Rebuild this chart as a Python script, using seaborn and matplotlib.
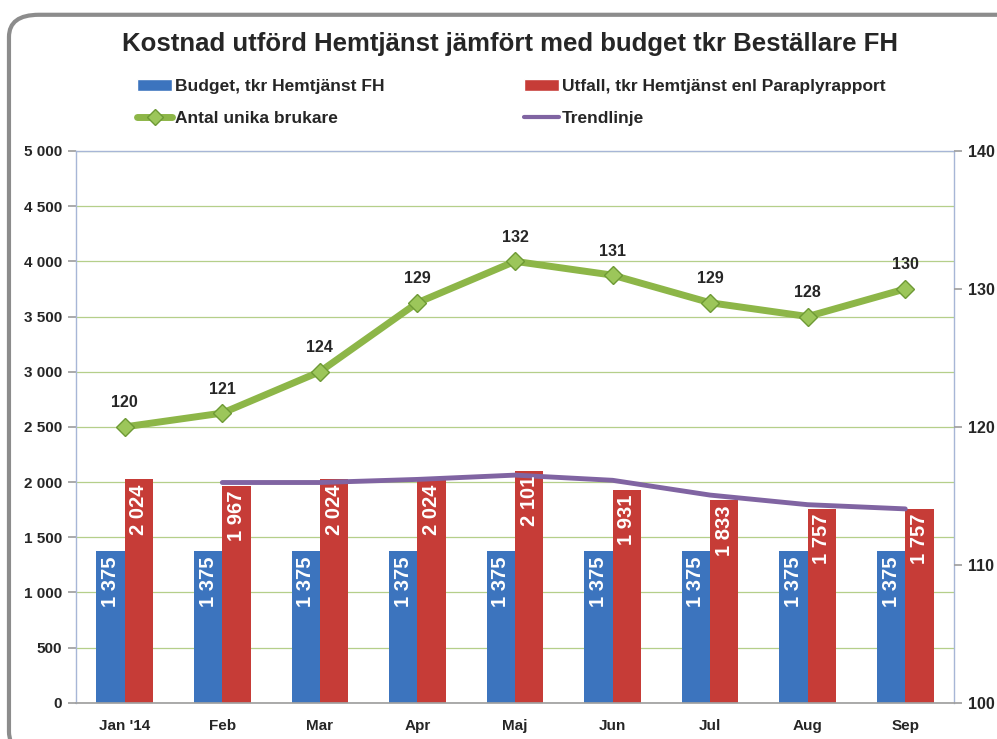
import numpy as np
import pandas as pd
import matplotlib
matplotlib.use("Agg")
import matplotlib.pyplot as plt
from matplotlib.patches import FancyBboxPatch
from matplotlib.lines import Line2D
from matplotlib.patches import Patch
import seaborn as sns

# data
months = ["Jan '14", "Feb", "Mar", "Apr", "Maj", "Jun", "Jul", "Aug", "Sep"]
budget = [1375, 1375, 1375, 1375, 1375, 1375, 1375, 1375, 1375]
utfall = [2024, 1967, 2024, 2024, 2101, 1931, 1833, 1757, 1757]
brukare = [120, 121, 124, 129, 132, 131, 129, 128, 130]
trend = [1996, 1996, 2024, 2063, 2016, 1882, 1795, 1757]  # Feb..Sep

def fmt(v):
    return f"{v:,}".replace(",", " ")

sns.set_theme(style="white")
plt.rcParams['font.family'] = ['Liberation Sans', 'DejaVu Sans']

df = pd.DataFrame({
    "month": months * 2,
    "value": budget + utfall,
    "serie": ["Budget, tkr Hemtjänst FH"] * 9 + ["Utfall, tkr Hemtjänst enl Paraplyrapport"] * 9,
})

fig = plt.figure(figsize=(9.97, 7.39), dpi=100)
ax = fig.add_axes([0.0762, 0.049, 0.8807, 0.7467])

blue = "#3C74BE"
red = "#C63C37"
green = "#8DB648"
purple = "#8064A2"

sns.barplot(data=df, x="month", y="value", hue="serie", order=months,
            palette=[blue, red], width=0.58, gap=0, ax=ax, legend=False,
            edgecolor="none", saturation=1)

ax.set_ylim(0, 5000)
ax.set_xlim(-0.5, 8.5)
ax.set_yticks(np.arange(0, 5001, 500))
ax.set_yticklabels([fmt(v) for v in range(0, 5001, 500)], fontsize=11, fontweight="bold")
ax.set_xticklabels(months, fontsize=11, fontweight="bold")
ax.set_xlabel("")
ax.set_ylabel("")
ax.yaxis.grid(True, color="#B5CF8A", lw=0.9)
ax.set_axisbelow(True)
for s in ["left", "right", "top"]:
    ax.spines[s].set_color("#A7B6D6")
    ax.spines[s].set_linewidth(1)
ax.spines["bottom"].set_color("#A0A0A0")
ax.tick_params(axis="y", length=6, color="#A0A0A0", left=True, pad=4)
ax.tick_params(axis="x", length=0, pad=12)

# bar labels inside the top of the bars
bw = 0.29
for i in range(len(months)):
    ax.text(i - bw / 2, budget[i] - 45, fmt(budget[i]), rotation=90, ha="center", va="top",
            color="white", fontsize=14.5, fontweight="bold")
    ax.text(i + bw / 2, utfall[i] - 45, fmt(utfall[i]), rotation=90, ha="center", va="top",
            color="white", fontsize=14.5, fontweight="bold")

# trend line
sns.lineplot(x=list(range(1, 9)), y=trend, ax=ax, color=purple, lw=3.5, legend=False)

# secondary axis
ax2 = ax.twinx()
sns.lineplot(x=list(range(9)), y=brukare, ax=ax2, color=green, lw=5, marker="D",
             markersize=9, markerfacecolor="#9CC65A", markeredgecolor="#6E9A35",
             markeredgewidth=1, legend=False)
ax2.set_ylim(100, 140)
ax2.set_xlim(-0.5, 8.5)
ax2.set_yticks([100, 110, 120, 130, 140])
ax2.set_yticklabels(["100", "110", "120", "130", "140"], fontsize=11.5, fontweight="bold")
ax2.tick_params(axis="y", length=6, color="#A0A0A0", right=True, pad=4)
for s in ax2.spines.values():
    s.set_visible(False)
for i, v in enumerate(brukare):
    ax2.text(i, v + 1.2, str(v), ha="center", va="bottom", fontsize=11.5, fontweight="bold")

fig.text(0.512, 0.940, "Kostnad utförd Hemtjänst jämfört med budget tkr Beställare FH",
         ha="center", va="center", fontsize=18.5, fontweight="bold")

handles = [
    Patch(facecolor=blue, label="Budget, tkr Hemtjänst FH"),
    Patch(facecolor=red, label="Utfall, tkr Hemtjänst enl Paraplyrapport"),
    Line2D([], [], color=green, lw=5, marker="D", markersize=8, markerfacecolor="#9CC65A",
           markeredgecolor="#6E9A35", label="Antal unika brukare"),
    Line2D([], [], color=purple, lw=3, label="Trendlinje"),
]
leg = fig.legend(handles=[handles[0], handles[2], handles[1], handles[3]], ncol=2,
                 loc="upper left", bbox_to_anchor=(0.122, 0.914), frameon=False,
                 handlelength=2.0, handletextpad=0.2, columnspacing=8.0, labelspacing=0.95,
                 prop={"weight": "bold", "size": 12.5})

frame = FancyBboxPatch((0.009, -0.02), 1.05, 1.0, boxstyle="round,pad=0,rounding_size=0.03",
                       transform=fig.transFigure, fill=False, edgecolor="#8C8C8C", lw=3,
                       clip_on=False)
fig.patches.append(frame)

fig.savefig("out.png", dpi=100)
